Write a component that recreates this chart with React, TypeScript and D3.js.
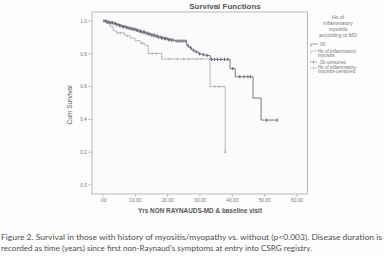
import React from "react";
import * as d3 from "d3";

// ---- data ----
const xTicks = [0, 10, 20, 30, 40, 50, 60];
const xTickLabels = [".00", "10.00", "20.00", "30.00", "40.00", "50.00", "60.00"];
const yTicks = [0, 0.2, 0.4, 0.6, 0.8, 1.0];
const yTickLabels = ["0.0", "0.2", "0.4", "0.6", "0.8", "1.0"];

// group .00 (no myositis): step times and survival after each step
const noMyoTimes = [0, 1, 2, 3, 4, 5, 6, 7, 8, 9, 10, 11, 12, 13, 14, 15, 16, 17, 18, 19, 20, 21, 22.3, 25.9, 26.6, 27.4, 28.4, 29.5, 30.5, 31.6, 33.1, 33.2, 39.3, 40.9, 46.4, 48.9];
const noMyoSurv = [1.0, 0.995, 0.99, 0.985, 0.978, 0.972, 0.966, 0.96, 0.955, 0.95, 0.944, 0.938, 0.932, 0.926, 0.92, 0.914, 0.908, 0.902, 0.897, 0.892, 0.887, 0.883, 0.878, 0.85, 0.838, 0.823, 0.812, 0.8, 0.795, 0.79, 0.785, 0.766, 0.71, 0.66, 0.53, 0.396];
const noMyoEnd = 53.9;
const noMyoCensor = [0.3, 0.8, 1.2, 1.6, 2.1, 2.5, 2.9, 3.4, 3.8, 4.2, 4.7, 5.1, 5.5, 6.0, 6.4, 6.8, 7.3, 7.7, 8.1, 8.6, 9.0, 9.4, 9.9, 10.3, 10.7, 11.2, 11.6, 12.0, 12.5, 12.9, 13.3, 13.8, 14.2, 14.6, 15.1, 15.5, 15.9, 16.4, 16.8, 17.2, 17.7, 18.1, 18.5, 19.0, 19.4, 19.8, 20.3, 20.7, 21.2, 21.7, 22.6, 23.2, 23.8, 24.4, 25.0, 25.6, 26.3, 27.1, 27.9, 28.8, 29.9, 31.0, 32.2, 33.6, 34.5, 35.4, 36.5, 37.6, 38.6, 40.1, 42.3, 43.6, 44.8, 45.6, 50.6, 53.9];

// group Hx of inflammatory myositis
const myoTimes = [0, 1.1, 2.2, 3.1, 4.2, 6.8, 8.4, 9.9, 11.5, 13.0, 14.0, 18.1, 33.1, 37.8];
const myoSurv = [1.0, 0.985, 0.965, 0.94, 0.927, 0.91, 0.896, 0.88, 0.864, 0.85, 0.802, 0.768, 0.6, 0.2];
const myoEnd = 37.8;
const myoCensor = [4.8, 5.5, 7.6, 12.2, 15.2, 16.5, 20.5, 23.0, 25.0, 26.5, 29.0, 30.5, 34.5, 36.0];

const legendTitle = ["Hx of", "inflammatory", "myositis", "according to MD"];
const caption = [
  "Figure 2. Survival in those with history of myositis/myopathy vs. without (p<0.003).  Disease duration is",
  "recorded as time (years) since first non-Raynaud\u2019s symptoms at entry into CSRG registry.",
];

const W = 384, H = 256;
const x = d3.scaleLinear().domain([0, 60]).range([103, 297]);
const y = d3.scaleLinear().domain([0, 1]).range([185, 21]);

function stepPts(times: number[], surv: number[], end: number): [number, number][] {
  const pts: [number, number][] = times.map((t, i) => [t, surv[i]]);
  pts.push([end, surv[surv.length - 1]]);
  return pts;
}
function survAt(times: number[], surv: number[], t: number) {
  let v = surv[0];
  for (let i = 0; i < times.length; i++) if (times[i] <= t) v = surv[i];
  return v;
}

const line = d3
  .line<[number, number]>()
  .x((d) => x(d[0]))
  .y((d) => y(d[1]))
  .curve(d3.curveStepAfter);

const DARK = "#6a6a70";
const LIGHT = "#a4a4aa";

export default function App() {
  const noPath = line(stepPts(noMyoTimes, noMyoSurv, noMyoEnd)) || "";
  const myPath = line(stepPts(myoTimes, myoSurv, myoEnd)) || "";
  return (
    <svg
      width={W}
      height={H}
      style={{ position: "absolute", left: 0, top: 0, background: "#fdfdfd" }}
      fontFamily="Liberation Sans, Arial, sans-serif"
    >
      {/* title */}
      <text x={225} y={8.5} textAnchor="middle" fontSize={8} fontWeight="bold" fill="#555">
        Survival Functions
      </text>
      {/* plot frame */}
      <rect x={92} y={12} width={215.5} height={182} fill="#fbfbfd" stroke="#a8a8ae" strokeWidth={0.8} />
      {/* y axis */}
      {yTicks.map((v, i) => (
        <g key={"y" + i}>
          <line x1={88} x2={92} y1={y(v)} y2={y(v)} stroke="#9a9a9a" strokeWidth={0.6} />
          <text x={87} y={y(v) + 1.7} textAnchor="end" fontSize={4.8} fill="#777">
            {yTickLabels[i]}
          </text>
        </g>
      ))}
      {/* x axis */}
      {xTicks.map((v, i) => (
        <g key={"x" + i}>
          <line x1={x(v)} x2={x(v)} y1={194} y2={197} stroke="#9a9a9a" strokeWidth={0.6} />
          <text x={x(v)} y={202} textAnchor="middle" fontSize={4.8} fill="#777">
            {xTickLabels[i]}
          </text>
        </g>
      ))}
      <text x={200} y={213} textAnchor="middle" fontSize={6.4} fontWeight="bold" fill="#555">
        Yrs NON RAYNAUDS-MD &amp; baseline visit
      </text>
      <text transform="translate(72,105) rotate(-90)" textAnchor="middle" fontSize={6.6} fill="#666">
        Cum Survival
      </text>
      {/* curves */}
      <path d={myPath} fill="none" stroke={LIGHT} strokeWidth={0.8} />
      {myoCensor.map((t, i) => {
        const cy = y(survAt(myoTimes, myoSurv, t));
        return <line key={"mc" + i} x1={x(t)} x2={x(t)} y1={cy - 1.3} y2={cy + 1.3} stroke={LIGHT} strokeWidth={0.8} />;
      })}
      <rect x={x(myoEnd) - 0.8} y={y(0.2) - 0.8} width={1.6} height={1.6} fill={LIGHT} />
      <path d={noPath} fill="none" stroke={DARK} strokeWidth={0.9} />
      {noMyoCensor.map((t, i) => {
        const cy = y(survAt(noMyoTimes, noMyoSurv, t));
        return <line key={"nc" + i} x1={x(t)} x2={x(t)} y1={cy - 1.6} y2={cy + 1.6} stroke={DARK} strokeWidth={1.1} />;
      })}
      {/* legend */}
      {legendTitle.map((s, i) => (
        <text key={"lt" + i} x={338} y={19 + i * 6} textAnchor="middle" fontSize={5.2} fill="#777">
          {s}
        </text>
      ))}
      <path d="M311,47 V44 H318" fill="none" stroke={DARK} strokeWidth={0.6} />
      <text x={319} y={46} fontSize={4.6} fill="#777">.00</text>
      <path d="M311,54 V51 H318" fill="none" stroke={LIGHT} strokeWidth={0.6} />
      <text x={318} y={52.5} fontSize={4.6} fill="#777">Hx of inflammatory</text>
      <text x={318} y={57} fontSize={4.6} fill="#777">myositis</text>
      <line x1={310} x2={317} y1={62} y2={62} stroke={DARK} strokeWidth={0.5} />
      <line x1={313.5} x2={313.5} y1={60.5} y2={63.5} stroke={DARK} strokeWidth={0.5} />
      <text x={319} y={63.5} fontSize={4.6} fill="#777">.00-censored</text>
      <line x1={310} x2={317} y1={68} y2={68} stroke={LIGHT} strokeWidth={0.5} />
      <line x1={313.5} x2={313.5} y1={66.5} y2={69.5} stroke={LIGHT} strokeWidth={0.5} />
      <text x={318} y={68.5} fontSize={4.6} fill="#777">Hx of inflammatory</text>
      <text x={318} y={73} fontSize={4.6} fill="#777">myositis-censored</text>
      {/* caption */}
      <text x={1} y={239.5} fontSize={8.2} fill="#4e4e4e" fontFamily="Lato, sans-serif" textLength={381} lengthAdjust="spacingAndGlyphs">
        {caption[0]}
      </text>
      <text x={1} y={251} fontSize={8.2} fill="#4e4e4e" fontFamily="Lato, sans-serif" textLength={311} lengthAdjust="spacingAndGlyphs">
        {caption[1]}
      </text>
    </svg>
  );
}
